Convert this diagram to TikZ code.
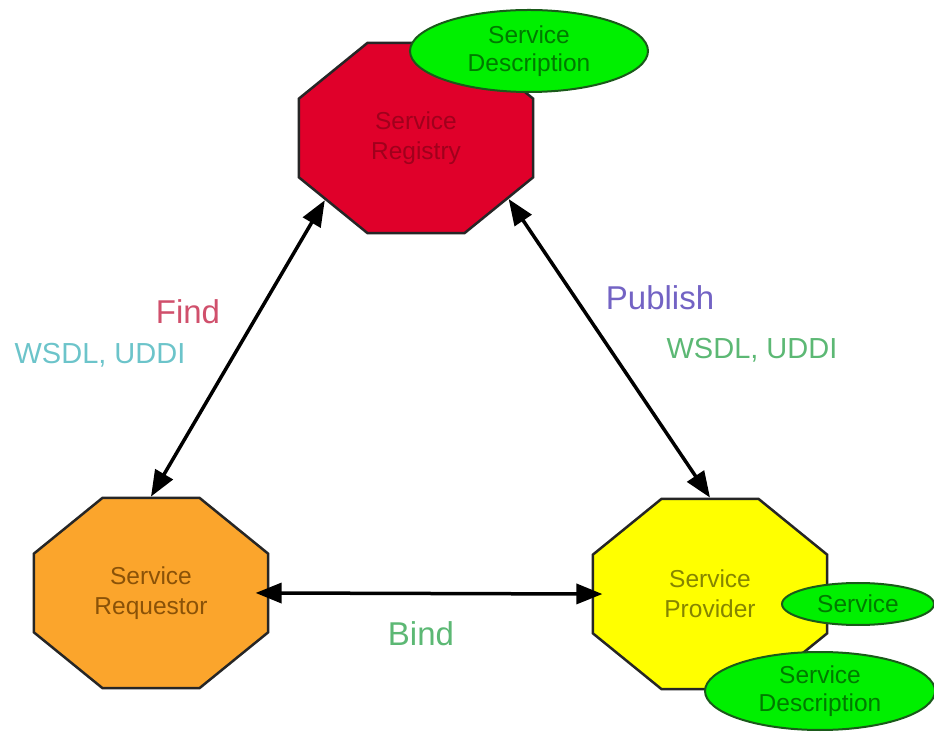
\documentclass[tikz,border=0pt]{standalone}
\usepackage{fontspec}
\setmainfont{Liberation Sans}
\usetikzlibrary{arrows.meta, positioning, shapes.geometric}
\definecolor{regRed}{HTML}{E0002A}
\definecolor{regText}{HTML}{A0001C}
\definecolor{reqOrange}{HTML}{FBA52C}
\definecolor{reqText}{HTML}{8A5208}
\definecolor{provYellow}{HTML}{FFFF00}
\definecolor{provText}{HTML}{858500}
\definecolor{descGreen}{HTML}{00F000}
\definecolor{descText}{HTML}{007A00}
\definecolor{descLine}{HTML}{1A5A1A}
\definecolor{findPink}{HTML}{D0506C}
\definecolor{wsdlCyan}{HTML}{6CC4CA}
\definecolor{pubPurple}{HTML}{7363C4}
\definecolor{wsdlGreen}{HTML}{5CB874}

\tikzset{
  octa/.style={regular polygon, regular polygon sides=8, minimum size=206pt,
    inner sep=0pt, xscale=1.23, transform shape,
    draw=black!85, line width=2.5pt},
  octatext/.style={align=center, font=\fontsize{24.5}{30}\selectfont},
  descr/.style={ellipse, draw=descLine, fill=descGreen, line width=2pt,
    inner sep=0pt, align=center, text=descText,
    font=\fontsize{24.5}{28}\selectfont},
  role/.style={font=\fontsize{33}{36}\selectfont},
  proto/.style={font=\fontsize{29}{32}\selectfont},
  link/.style={{Triangle[length=26pt,width=20pt]}-{Triangle[length=26pt,width=20pt]},
    line width=3.5pt}
}

\begin{document}
\begin{tikzpicture}[x=1pt, y=1pt]
    \useasboundingbox (0,0) rectangle (934,731);

    % los tres roles
    \node[octa, fill=regRed] (reg) at (416,593) {};
    \node[octatext, text=regText] (regtxt) at (reg) {Service\\Registry};
    \node[octa, fill=reqOrange] (req) at (151,138) {};
    \node[octatext, text=reqText] (reqtxt) at (req) {Service\\Requestor};
    \node[octa, fill=provYellow] (prov) at (710,137) {};
    \node[octatext, text=provText] (provtxt) at (prov) {Service\\Provider};

    % descripciones
    \node[descr, minimum width=238pt, minimum height=82pt] (regdesc) at (529,680)
      {Service\\Description};
    \node[descr, minimum width=152pt, minimum height=42pt] (svc) at (858,127)
      {Service};
    \node[descr, minimum width=230pt, minimum height=78pt] (provdesc) at (820,40)
      {Service\\Description};

    % flechas
    \draw[link] (req.north) -- (reg.220);
    \draw[link] (prov.north) -- (reg.321);
    \draw[link, shorten <=-14pt, shorten >=-11pt] (req.east) -- (prov.west);

    % etiquetas
    \node[role, text=findPink] (find) at (188,419) {Find};
    \node[proto, text=wsdlCyan] (wsdlfind) at (100,376) {WSDL, UDDI};
    \node[role, text=pubPurple] (publish) at (660,433) {Publish};
    \node[proto, text=wsdlGreen] (wsdlpub) at (752,381) {WSDL, UDDI};
    \node[role, text=wsdlGreen] (bind) at (421,97) {Bind};
\end{tikzpicture}
\end{document}
